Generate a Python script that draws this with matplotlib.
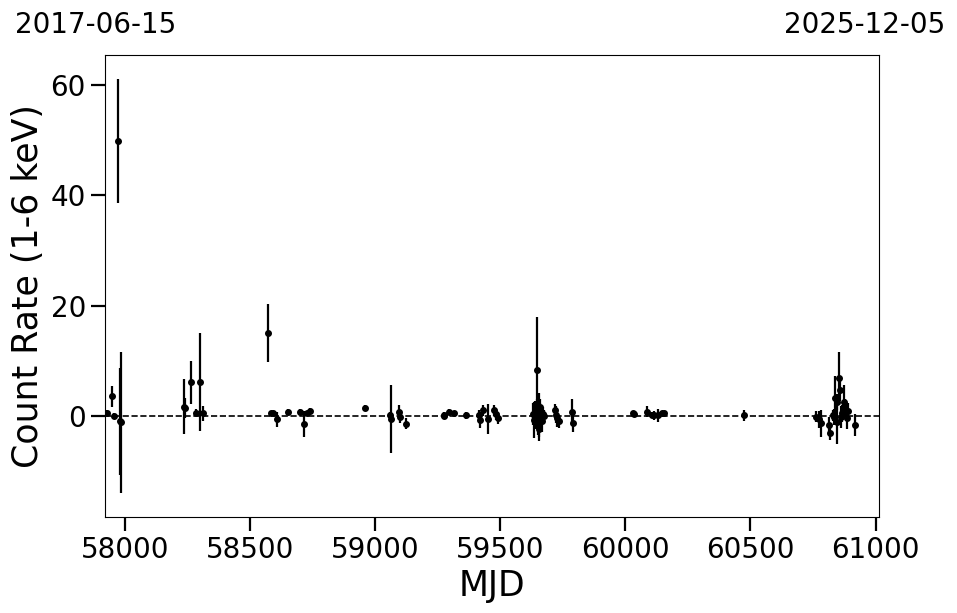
import matplotlib
matplotlib.use("Agg")
import matplotlib.pyplot as plt
import numpy as np

# ---- data ----
mjd = [57930, 57950, 57956, 57971, 57980, 57985,
       58236, 58239, 58262, 58282, 58298, 58312,
       58570, 58582, 58591, 58606, 58651, 58699, 58714, 58729, 58739,
       58959, 59061, 59063, 59097, 59101, 59122,
       59275, 59277, 59295, 59315, 59365, 59416, 59420, 59430, 59453,
       59477, 59484, 59490,
       59632, 59636, 59640, 59643, 59646, 59648, 59650, 59652, 59654, 59656,
       59658, 59660, 59663, 59666, 59670, 59674,
       59717, 59722, 59728, 59736, 59787, 59791,
       60029, 60033, 60087, 60107, 60116, 60129, 60147, 60156,
       60475,
       60763, 60773, 60782, 60814, 60817, 60832, 60836, 60839, 60845, 60848,
       60855, 60860, 60863, 60867, 60874, 60880, 60888, 60892, 60919]
rate = [0.5, 3.5, -0.05, 49.85, -1.0, -1.2,
        1.6, 1.45, 6.06, 0.55, 6.06, 0.4,
        14.96, 0.4, 0.4, -0.65, 0.73, 0.73, -1.5, 0.4, 0.85,
        1.4, 0.2, -0.6, 0.7, -0.25, -1.5,
        0.1, -0.05, 0.67, 0.43, 0.07, 0.1, -0.8, 1.0, -0.6,
        1.0, 0.3, -0.5,
        0.3, -0.8, 1.2, -0.3, 0.6, 8.3, -0.5, 0.9, 0.2, -2.5,
        1.5, -0.2, 0.5, -1.0, 0.3, 0.0,
        1.0, 0.2, -0.5, -1.0, 0.7, -1.4,
        0.43, 0.3, 0.73, 0.13, 0.1, 0.1, 0.4, 0.4,
        0.1,
        -0.2, -0.65, -1.4, -1.7, -3.1, 0.1, -0.2, 3.3, 2.5, -1.1,
        6.8, 4.7, -0.2, 0.4, 2.5, 1.5, -0.4, 0.8, -1.7]
err = [0.5, 1.9, 0.5, 11.2, 9.7, 12.8,
       5.0, 1.8, 3.9, 0.6, 8.9, 1.4,
       5.3, 0.5, 0.5, 1.4, 0.4, 0.4, 2.3, 0.5, 0.5,
       0.5, 0.5, 6.1, 1.2, 1.0, 1.0,
       0.5, 0.5, 0.5, 0.5, 0.6, 1.0, 1.5, 1.0, 2.8,
       1.0, 1.0, 1.0,
       2.0, 3.2, 1.5, 2.2, 2.5, 9.6, 3.0, 1.8, 4.0, 2.1,
       1.5, 2.5, 1.5, 2.0, 1.2, 1.0,
       1.2, 1.5, 1.5, 1.2, 2.4, 1.5,
       0.4, 0.4, 1.0, 0.5, 0.8, 1.2, 0.5, 0.5,
       1.0,
       1.0, 1.5, 2.4, 1.5, 1.4, 1.0, 1.5, 3.9, 1.5, 4.0,
       4.8, 2.0, 2.0, 1.5, 3.0, 1.5, 2.0, 1.5, 2.0]
date_left = "2017-06-15"
date_right = "2025-12-05"
xlim = (57919, 61014)
ylim = (-18.4, 65.5)

fig = plt.figure(figsize=(9.57, 6.13), dpi=100)
ax = fig.add_axes([0.1094, 0.1566, 0.8091, 0.7537])

ax.axhline(0, color="black", linestyle="--", linewidth=1.2, zorder=1)
ax.errorbar(mjd, rate, yerr=err, fmt="o", color="black", markersize=4,
            elinewidth=1.6, capsize=0, zorder=2)

ax.set_xlim(*xlim)
ax.set_ylim(*ylim)
ax.set_xticks([58000, 58500, 59000, 59500, 60000, 60500, 61000])
ax.set_yticks([0, 20, 40, 60])
ax.tick_params(axis="both", labelsize=20, length=10, width=1.6)
ax.set_xlabel("MJD", fontsize=25)
ax.set_ylabel("Count Rate (1-6 keV)", fontsize=25)

fig.text(15 / 957, 1 - 33 / 613, date_left, fontsize=20, ha="left", va="baseline")
fig.text(945 / 957, 1 - 33 / 613, date_right, fontsize=20, ha="right", va="baseline")

fig.savefig("out.png", dpi=100)
